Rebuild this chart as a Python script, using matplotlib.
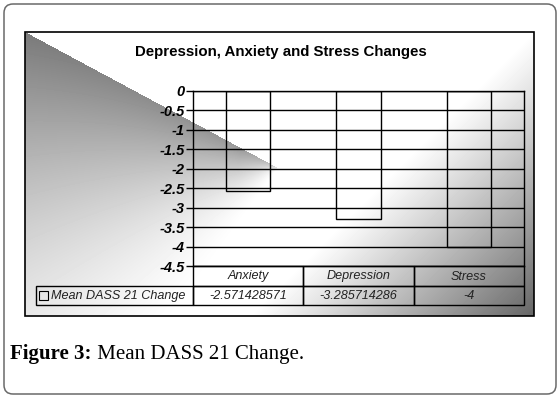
import numpy as np
import matplotlib
matplotlib.use("Agg")
from matplotlib import pyplot as plt
import matplotlib.patches as mpatches

# Data -----------------------------------------------------------------------------------------------------------------
title = "Depression, Anxiety and Stress Changes"
categories = ["Anxiety", "Depression", "Stress"]
mean_change = [-2.571428571, -3.285714286, -4.0]
value_labels = ["-2.571428571", "-3.285714286", "-4"]
series_name = "Mean DASS 21 Change"
y_ticks = [0, -0.5, -1, -1.5, -2, -2.5, -3, -3.5, -4, -4.5]
y_tick_labels = ["0", "-0.5", "-1", "-1.5", "-2", "-2.5", "-3", "-3.5", "-4", "-4.5"]
caption_bold = "Figure 3:"
caption_text = " Mean DASS 21 Change."

plt.rcParams['font.family'] = ['Liberation Sans', 'DejaVu Sans']

W_PX, H_PX = 560, 398
fig = plt.figure(figsize=(W_PX / 100, H_PX / 100), dpi=100)
fig.patch.set_facecolor("white")

# page layer in pixel coordinates
bg = fig.add_axes([0, 0, 1, 1])
bg.set_axis_off()

outer = mpatches.FancyBboxPatch((4, 4), 552, 390, boxstyle="round,pad=0,rounding_size=9",
                                fc="white", ec="#6a6a6a", lw=1.1, zorder=0)
bg.add_patch(outer)

# chart area fill (Excel style grey gradient)
fx0, fy0, fx1, fy1 = 25, 32, 534, 316
X, Y = np.meshgrid(np.arange(fx0, fx1) + 0.5, np.arange(fy0, fy1) + 0.5)
tip_x, tip_y = 278, 168
slope = (tip_y - fy0) / (tip_x - fx0)
below = (Y > fy0 + slope * (X - fx0)) & (X < tip_x)
phi = np.degrees(np.arctan2(Y - tip_y, tip_x - X))
r = np.hypot(tip_x - X, Y - tip_y)
ang = np.clip(1 - (phi + 28) / 85, 0, 1) ** 1.5
dark_left = 0.52 * ang * (0.72 + 0.28 * np.clip(r / 290, 0, 1)) * np.clip(r / 40, 0, 1) ** 0.3
dark_left = np.where(below, dark_left, 0)
dark_right = 0.6 * np.clip((X + Y - 565) / 285, 0, 1) ** 1.05
shade = 1 - np.maximum(dark_left, dark_right)
bg.imshow(shade, cmap="gray", vmin=0, vmax=1, extent=(fx0, fx1, fy1, fy0),
          aspect="auto", interpolation="bilinear", zorder=1)
bg.add_patch(mpatches.Rectangle((fx0, fy0), fx1 - fx0, fy1 - fy0, fill=False, ec="black", lw=1.2, zorder=2))

bg.text(281, 52, title, ha="center", va="center", fontsize=10.8, fontweight="bold", zorder=3)

t1 = bg.text(10, 359, caption_bold, ha="left", va="baseline", fontsize=15,
             family="Liberation Serif", fontweight="bold", zorder=3)
bg.annotate(caption_text, xy=(1, 0), xycoords=t1, ha="left", va="bottom", fontsize=15,
            family="Liberation Serif", zorder=3)

# plot area
px0, px1, py0, py1 = 193, 524, 91, 266
ax = fig.add_axes([px0 / W_PX, 1 - py1 / H_PX, (px1 - px0) / W_PX, (py1 - py0) / H_PX])
ax.patch.set_alpha(0)
x = np.arange(len(categories))
ax.bar(x, mean_change, width=0.4, fill=False, edgecolor="black", lw=1, zorder=3)
ax.set_xlim(-0.5, len(categories) - 0.5)
ax.set_ylim(-4.5, 0)
ax.set_yticks(y_ticks)
ax.set_yticklabels(y_tick_labels, fontsize=10.5, fontweight="bold", fontstyle="italic")
ax.set_xticks([])
ax.yaxis.grid(True, color="black", lw=1)
ax.tick_params(axis="y", length=5, width=1, pad=1, color="black")
for sp in ax.spines.values():
    sp.set_color("black")
    sp.set_linewidth(1)

# data table under the plot (header row = category names, one data row)
row1_top, row2_top, row2_bot = py1, 286, 305
lab_x0 = 36
col_w = (px1 - px0) / len(categories)
cell_kw = dict(fill=False, ec="black", lw=1, zorder=3)
txt_kw = dict(ha="center", va="center", fontsize=9.1, fontstyle="italic", color="#222222", zorder=4)
for j, (cat, val) in enumerate(zip(categories, value_labels)):
    cx = px0 + j * col_w
    bg.add_patch(mpatches.Rectangle((cx, row1_top), col_w, row2_top - row1_top, **cell_kw))
    bg.add_patch(mpatches.Rectangle((cx, row2_top), col_w, row2_bot - row2_top, **cell_kw))
    bg.text(cx + col_w / 2, (row1_top + row2_top) / 2 + 0.5, cat, **txt_kw)
    bg.text(cx + col_w / 2, (row2_top + row2_bot) / 2 + 0.5, val, **txt_kw)
bg.add_patch(mpatches.Rectangle((lab_x0, row2_top), px0 - lab_x0, row2_bot - row2_top, **cell_kw))
bg.add_patch(mpatches.Rectangle((38.5, 291), 9, 9, fill=False, ec="black", lw=0.8, zorder=3))
bg.text(51, (row2_top + row2_bot) / 2 + 0.5, series_name,
        **{**txt_kw, "ha": "left"})

bg.set_xlim(0, W_PX)
bg.set_ylim(H_PX, 0)

fig.savefig("out.png", dpi=100)
